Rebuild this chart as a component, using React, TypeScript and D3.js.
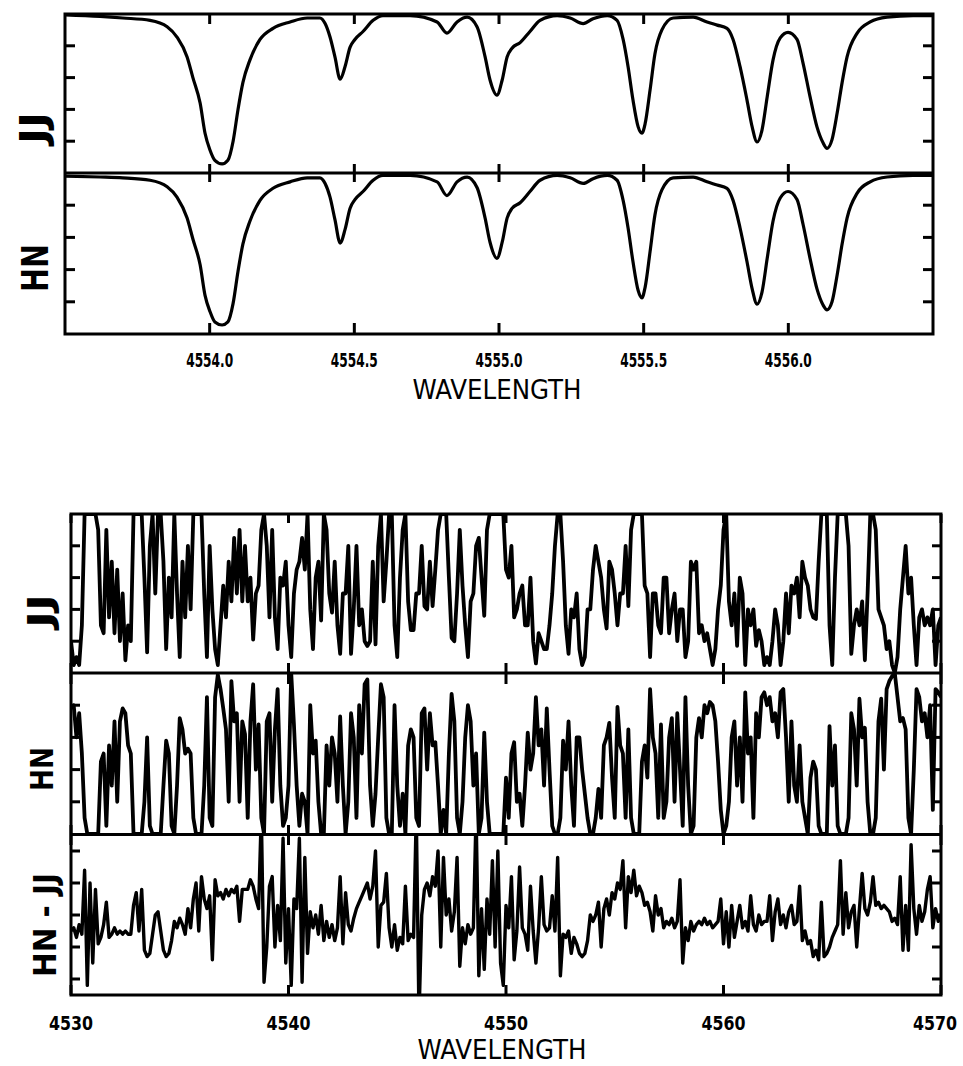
import React from 'react';
import * as d3 from 'd3';

// ---------- top figure (4553.5 - 4556.5 A) ----------
const TOP_WL = [
  4553.5, 4553.621, 4553.7, 4553.794, 4553.853, 4553.887, 4553.922, 4553.942, 4553.967, 4553.984,
  4554.001, 4554.018, 4554.043, 4554.063, 4554.081, 4554.098, 4554.115, 4554.139, 4554.174, 4554.219,
  4554.278, 4554.337, 4554.381, 4554.399, 4554.416, 4554.433, 4554.451, 4554.468, 4554.485, 4554.502,
  4554.53, 4554.565, 4554.599, 4554.693, 4554.786, 4554.82, 4554.855, 4554.89, 4554.924, 4554.952,
  4554.969, 4554.993, 4555.011, 4555.028, 4555.045, 4555.073, 4555.107, 4555.142, 4555.201, 4555.246,
  4555.291, 4555.325, 4555.374, 4555.408, 4555.429, 4555.446, 4555.463, 4555.481, 4555.494, 4555.505,
  4555.522, 4555.539, 4555.563, 4555.602, 4555.671, 4555.719, 4555.754, 4555.788, 4555.809, 4555.833,
  4555.857, 4555.875, 4555.892, 4555.909, 4555.927, 4555.947, 4555.972, 4555.999, 4556.03, 4556.051,
  4556.075, 4556.099, 4556.12, 4556.134, 4556.151, 4556.169, 4556.186, 4556.203, 4556.238, 4556.283,
  4556.341, 4556.431, 4556.5,
];
const TOP_JJ = [
  0.995, 0.985, 0.975, 0.96, 0.92, 0.855, 0.73, 0.6, 0.44, 0.25,
  0.145, 0.08, 0.057, 0.08, 0.2, 0.4, 0.57, 0.71, 0.84, 0.91,
  0.95, 0.975, 0.975, 0.94, 0.855, 0.73, 0.59, 0.67, 0.79, 0.84,
  0.89, 0.96, 0.99, 0.99, 0.95, 0.88, 0.95, 0.98, 0.92, 0.73,
  0.585, 0.49, 0.585, 0.73, 0.785, 0.82, 0.89, 0.96, 0.99, 0.975,
  0.94, 0.97, 0.99, 0.96, 0.84, 0.67, 0.46, 0.29, 0.25, 0.31,
  0.52, 0.75, 0.9, 0.975, 0.98, 0.95, 0.93, 0.91, 0.84, 0.67,
  0.46, 0.29, 0.195, 0.27, 0.48, 0.71, 0.85, 0.885, 0.84, 0.69,
  0.48, 0.29, 0.19, 0.155, 0.21, 0.38, 0.57, 0.73, 0.88, 0.95,
  0.98, 0.99, 0.99,
];
const TOP_HN = [
  0.98, 0.975, 0.97, 0.955, 0.915, 0.85, 0.72, 0.59, 0.43, 0.24,
  0.14, 0.075, 0.056, 0.075, 0.19, 0.39, 0.56, 0.7, 0.83, 0.905,
  0.945, 0.97, 0.97, 0.935, 0.85, 0.71, 0.565, 0.65, 0.78, 0.835,
  0.885, 0.955, 0.985, 0.985, 0.945, 0.86, 0.945, 0.975, 0.91, 0.72,
  0.57, 0.47, 0.57, 0.72, 0.78, 0.815, 0.885, 0.955, 0.985, 0.97,
  0.935, 0.965, 0.985, 0.955, 0.83, 0.66, 0.45, 0.27, 0.225, 0.29,
  0.51, 0.74, 0.895, 0.97, 0.975, 0.945, 0.925, 0.905, 0.83, 0.66,
  0.45, 0.28, 0.185, 0.26, 0.47, 0.7, 0.845, 0.885, 0.835, 0.68,
  0.47, 0.28, 0.18, 0.15, 0.2, 0.37, 0.56, 0.72, 0.875, 0.945,
  0.975, 0.985, 0.985,
];
const TOP_X_TICKS = [4554.0, 4554.5, 4555.0, 4555.5, 4556.0];
const FLUX_TICKS = [0.2, 0.4, 0.6, 0.8];

// ---------- bottom figure (4530 - 4570 A), sampled every 0.125 A ----------
const BOT_START = 4530;
const BOT_STEP = 0.125;
const BOT_X_TICKS = [4530, 4540, 4550, 4560, 4570];
const DIFF_TICKS = [-0.2, -0.1, 0, 0.1, 0.2];

const BOT_JJ = [
  0.2, 0.05, 0.1, 0.05, 0.3, 1, 1, 1, 1, 1,
  0.9, 0.3, 0.25, 0.9, 0.35, 0.7, 0.25, 0.65, 0.2, 0.5,
  0.08, 0.3, 0.2, 1, 1, 1, 1, 0.6, 0.13, 0.8,
  1, 0.5, 1, 1, 0.7, 0.15, 0.6, 0.35, 1, 0.5,
  0.1, 0.7, 0.35, 0.8, 0.4, 1, 1, 1, 1, 0.5,
  0.1, 0.8, 0.4, 0.15, 0.05, 0.3, 0.55, 0.35, 0.7, 0.45,
  0.85, 0.5, 0.9, 0.45, 0.8, 0.45, 0.6, 0.21, 0.5, 0.55,
  0.9, 1, 0.8, 0.35, 0.9, 0.35, 0.15, 0.6, 0.55, 0.7,
  0.3, 0.1, 0.5, 0.65, 0.7, 0.85, 0.65, 1, 0.4, 0.15,
  0.6, 0.7, 0.33, 1, 0.9, 0.5, 0.38, 0.7, 0.3, 0.12,
  0.5, 0.5, 0.8, 0.12, 0.4, 0.8, 0.3, 0.4, 0.2, 0.17,
  0.2, 0.7, 0.18, 0.8, 1, 0.45, 0.7, 1, 1, 0.3,
  0.1, 0.6, 0.9, 1, 0.45, 0.27, 0.27, 0.5, 0.5, 0.8,
  0.42, 0.4, 0.7, 0.42, 0.65, 0.9, 1, 1, 1, 0.6,
  0.22, 0.2, 0.5, 0.9, 0.55, 0.3, 0.1, 0.45, 0.5, 0.8,
  0.85, 0.6, 0.36, 0.9, 1, 1, 1, 1, 1, 1,
  0.65, 0.6, 0.8, 0.35, 0.4, 0.5, 0.55, 0.3, 0.3, 0.6,
  0.2, 0.06, 0.25, 0.2, 0.15, 0.15, 0.3, 0.5, 0.8, 1,
  1, 0.7, 0.3, 0.12, 0.4, 0.35, 0.5, 0.15, 0.05, 0.1,
  0.4, 0.4, 0.65, 0.8, 0.7, 0.6, 0.4, 0.28, 0.7, 0.65,
  0.5, 0.3, 0.5, 0.5, 0.8, 0.42, 0.9, 1, 1, 1,
  1, 0.55, 0.5, 0.1, 0.5, 0.5, 0.3, 0.25, 0.6, 0.6,
  0.25, 0.4, 0.5, 0.2, 0.4, 0.4, 0.1, 0.2, 0.7, 0.65,
  0.7, 0.25, 0.3, 0.2, 0.25, 0.15, 0.05, 0.15, 0.4, 0.55,
  0.9, 1, 0.45, 0.3, 0.5, 0.17, 0.6, 0.5, 0.05, 0.4,
  0.3, 0.4, 0.17, 0.27, 0.2, 0.05, 0.1, 0.05, 0.2, 0.4,
  0.3, 0.05, 0.2, 0.5, 0.25, 0.55, 0.5, 0.6, 0.35, 0.7,
  0.6, 0.55, 0.4, 0.35, 0.34, 0.7, 1, 1, 1, 0.3,
  0.05, 0.6, 1, 1, 1, 1, 0.8, 0.12, 0.3, 0.4,
  0.3, 0.45, 0.08, 0.5, 1, 1, 0.9, 0.4, 0.35, 0.3,
  0.15, 0.2, 0.05, 0, 0.1, 0.4, 0.6, 0.8, 0.5, 0.6,
  0.3, 0.05, 0.35, 0.4, 0.3, 0.35, 0.3, 0.4, 0.05, 0.3,
  0.35,
];

const BOT_HN = [
  0.78, 0.8, 0.6, 0.75, 0.5, 0.1, 0, 0, 0, 0,
  0, 0.45, 0.5, 0.05, 0.55, 0.3, 0.7, 0.2, 0.7, 0.78,
  0.75, 0.55, 0.5, 0, 0, 0, 0, 0.2, 0.6, 0.05,
  0, 0, 0, 0, 0.3, 0.58, 0.5, 0.05, 0, 0.3,
  0.72, 0.65, 0.5, 0.53, 0.5, 0.1, 0, 0, 0, 0.3,
  0.85, 0.1, 0.05, 0.85, 0.99, 0.9, 0.78, 0.65, 0.2, 0.95,
  0.7, 0.75, 0.2, 0.7, 0.62, 0.1, 0.7, 0.93, 0.4, 0.68,
  0.1, 0, 0.7, 0.75, 0.2, 0.65, 0.9, 0.3, 0.05, 0.1,
  0.3, 1, 0.68, 0.3, 0.05, 0.25, 0.2, 0, 0.8, 0.5,
  0.58, 0.2, 0, 0, 0.55, 0.3, 0.6, 0.5, 0.2, 0.73,
  0.3, 0, 0.2, 0.75, 0.6, 0.1, 0.8, 0.5, 0.93, 0.96,
  0.3, 0.05, 0.25, 0.6, 0.93, 0.85, 0.1, 0, 0, 0.8,
  0.3, 0.05, 0.25, 0, 0.55, 0.65, 0.6, 0.1, 0.05, 0.75,
  0.78, 0.4, 0.75, 0.55, 0.57, 0.3, 0, 0.15, 0, 0.5,
  0.87, 0.7, 0.1, 0, 0.2, 0.6, 0.8, 0.7, 0.3, 0.5,
  0, 0.1, 0.63, 0.2, 0, 0, 0, 0, 0, 0,
  0.35, 0.1, 0.5, 0.57, 0.2, 0.25, 0.05, 0.3, 0.63, 0.4,
  0.5, 0.85, 0.55, 0.65, 0.3, 0.78, 0.4, 0.05, 0, 0,
  0.1, 0.58, 0.4, 0.7, 0.3, 0.05, 0.6, 0.6, 0.4, 0.25,
  0.1, 0, 0, 0.1, 0.28, 0.1, 0.55, 0.6, 0.69, 0.35,
  0.1, 0.79, 0.55, 0.5, 0.1, 0.65, 0.1, 0, 0, 0,
  0.45, 0.55, 0.35, 0.9, 0.6, 0.5, 0.1, 0.68, 0.1, 0.2,
  0.6, 0.72, 0.2, 0.75, 0.4, 0.05, 0.85, 0.3, 0, 0.05,
  0.6, 0.72, 0.6, 0.8, 0.75, 0.82, 0.8, 0.7, 0.45, 0.15,
  0, 0.05, 0.2, 0.6, 0.7, 0.3, 0.6, 0.2, 0.88, 0.5,
  0.6, 0.1, 0.75, 0.6, 0.85, 0.88, 0.8, 0.85, 0.7, 0.75,
  0.6, 0.88, 0.9, 0.6, 0.2, 0.7, 0.3, 0.2, 0.55, 0.2,
  0.1, 0, 0.35, 0.45, 0.4, 0.05, 0, 0, 0, 0.67,
  0.3, 0.55, 0.05, 0, 0, 0, 0.1, 0.75, 0.65, 0.3,
  0.84, 0.6, 0.66, 0.2, 0, 0, 0.1, 0.7, 0.84, 0.4,
  0.9, 0.95, 0.98, 1, 0.85, 0.7, 0.72, 0.65, 0.1, 0,
  0.4, 0.9, 0.85, 0.7, 0.75, 0.6, 0.8, 0.15, 0.9, 0.88,
  0.85,
];

const BOT_DIFF = [
  -0.05, -0.04, -0.07, -0.03, -0.06, 0.14, -0.22, 0.1, -0.15, 0.08,
  -0.09, -0.07, -0.03, 0.04, -0.07, -0.06, -0.04, -0.06, -0.05, -0.06,
  -0.05, -0.06, -0.06, 0.03, 0.07, -0.05, 0.08, -0.11, -0.13, -0.12,
  -0.06, 0, 0.01, -0.05, -0.11, -0.13, -0.12, -0.08, -0.02, -0.04,
  -0.01, -0.03, -0.06, 0.02, -0.04, 0.05, 0.1, -0.05, 0.12, 0.05,
  0.02, 0.06, -0.14, 0.11, 0.06, 0.07, 0.05, 0.08, 0.06, 0.08,
  0.07, 0.09, -0.02, 0.08, 0.08, 0.08, 0.11, 0.09, 0.05, 0.02,
  0.32, -0.21, -0.1, 0.09, 0.12, -0.1, 0.03, -0.08, 0.24, -0.15,
  0.02, -0.22, 0.05, 0.02, 0.24, -0.21, 0.18, -0.12, 0.01, -0.04,
  0, -0.06, 0.03, -0.08, -0.02, -0.07, -0.03, -0.08, -0.04, 0.12,
  -0.09, 0.07, -0.03, -0.05, -0.01, 0.02, 0.04, 0.06, 0.08, 0.1,
  0.05, 0.09, 0.2, -0.1, 0.03, 0.04, 0.13, -0.04, -0.1, -0.03,
  -0.11, -0.07, -0.09, 0.09, -0.08, -0.06, -0.07, 0.32, -0.32, 0,
  0.08, 0.1, 0.06, 0.12, 0.09, 0.2, -0.1, 0.18, 0, 0.05,
  -0.05, 0.01, 0.18, -0.16, -0.04, -0.09, -0.03, -0.06, -0.04, 0.32,
  -0.19, 0.02, -0.17, 0.05, -0.06, 0.17, -0.1, 0.2, -0.15, -0.22,
  0.03, -0.04, 0.12, -0.14, -0.05, 0.15, -0.04, -0.06, -0.11, 0.09,
  -0.05, -0.15, -0.04, 0.12, -0.03, -0.05, -0.04, 0.06, -0.05, 0.18,
  -0.19, -0.06, -0.07, -0.05, -0.12, -0.07, -0.09, -0.12, -0.13, -0.12,
  -0.08, 0, -0.02, 0, 0.04, -0.1, 0.02, 0.05, 0, 0.07,
  0.05, 0.1, 0.08, 0.17, -0.04, 0.12, 0.07, 0.14, 0.06, 0.09,
  0.07, 0.03, 0.04, 0.01, -0.05, 0.06, 0, 0.02, -0.04, -0.02,
  -0.03, -0.01, -0.04, -0.02, 0.11, -0.15, -0.04, -0.08, -0.02, -0.05,
  -0.03, -0.02, -0.03, -0.01, -0.03, -0.02, -0.04, -0.03, -0.02, 0.05,
  -0.09, 0.01, -0.1, 0.03, -0.07, -0.02, 0.03, -0.04, -0.02, -0.05,
  0.06, -0.03, -0.05, 0, -0.03, -0.02, -0.02, 0.06, -0.08, 0.01,
  0.05, -0.03, 0, -0.04, 0.01, 0.03, -0.03, -0.02, 0.09, -0.08,
  -0.05, -0.09, -0.08, -0.13, -0.11, -0.14, 0.04, -0.13, -0.12, -0.1,
  -0.07, -0.05, -0.03, 0.17, -0.06, 0.07, -0.04, 0.01, 0.03, -0.1,
  0.02, 0.13, 0.02, 0, 0.04, 0.12, 0.03, 0.04, 0.02, 0.03,
  0.02, 0.01, -0.02, -0.01, -0.03, 0.12, -0.11, 0.03, -0.11, 0.22,
  0.02, -0.06, 0.03, -0.02, 0.01, 0.08, 0.12, -0.04, 0.02, -0.02,
  0,
];

const FONT = "'DejaVu Sans Condensed', 'DejaVu Sans', sans-serif";

type Panel = { top: number; bottom: number; y: d3.ScaleLinear<number, number>; ticks: number[] };

export default function App() {
  const W = 963;
  const H = 1066;

  // top figure scales
  const tx = d3.scaleLinear().domain([4553.5, 4556.5]).range([65, 933]);
  const tJJ = d3.scaleLinear().domain([0, 1]).range([173, 14]);
  const tHN = d3.scaleLinear().domain([0, 1]).range([334, 173]);

  // bottom figure scales
  const bx = d3.scaleLinear().domain([4530, 4570]).range([71, 941]);
  const bJJ = d3.scaleLinear().domain([0, 1]).range([673, 514]);
  const bHN = d3.scaleLinear().domain([0, 1]).range([834, 673]);
  const bD = d3.scaleLinear().domain([-0.25, 0.25]).range([995, 835]);

  const topLine = (ys: d3.ScaleLinear<number, number>) =>
    d3.line<number>()
      .x((_, i) => tx(TOP_WL[i]))
      .y((v) => ys(v))
      .curve(d3.curveMonotoneX);

  const botLine = (ys: d3.ScaleLinear<number, number>) =>
    d3.line<number>()
      .x((_, i) => bx(BOT_START + i * BOT_STEP))
      .y((v) => ys(v));

  const topPanels: Panel[] = [
    { top: 14, bottom: 173, y: tJJ, ticks: FLUX_TICKS },
    { top: 173, bottom: 334, y: tHN, ticks: FLUX_TICKS },
  ];
  const botPanels: Panel[] = [
    { top: 514, bottom: 673, y: bJJ, ticks: FLUX_TICKS },
    { top: 673, bottom: 834, y: bHN, ticks: FLUX_TICKS },
    { top: 835, bottom: 995, y: bD, ticks: DIFF_TICKS },
  ];

  const yTicks = (p: Panel, x0: number, x1: number, len: number, key: string) =>
    p.ticks.map((t) => (
      <g key={key + t}>
        <line x1={x0} x2={x0 + len} y1={p.y(t)} y2={p.y(t)} />
        <line x1={x1} x2={x1 - len} y1={p.y(t)} y2={p.y(t)} />
      </g>
    ));

  const topTickX = TOP_X_TICKS.map((t) => tx(t));
  const botTickX = BOT_X_TICKS.map((t) => bx(t));

  return (
    <svg
      width={W}
      height={H}
      viewBox={`0 0 ${W} ${H}`}
      style={{ position: 'absolute', left: 0, top: 0, background: '#fff' }}
    >
      <defs>
        {topPanels.map((p, i) => (
          <clipPath id={`tc${i}`} key={i}>
            <rect x={65} y={p.top} width={868} height={p.bottom - p.top} />
          </clipPath>
        ))}
        {botPanels.map((p, i) => (
          <clipPath id={`bc${i}`} key={i}>
            <rect x={71} y={p.top - 1} width={870} height={p.bottom - p.top + 2} />
          </clipPath>
        ))}
      </defs>
      <rect x={0} y={0} width={W} height={H} fill="#fff" />

      {/* ---------- top figure ---------- */}
      <g fill="none" stroke="#000" strokeWidth={3.2} strokeLinejoin="round">
        <path d={topLine(tJJ)(TOP_JJ) || ''} clipPath="url(#tc0)" />
        <path d={topLine(tHN)(TOP_HN) || ''} clipPath="url(#tc1)" />
      </g>
      <g stroke="#000" strokeWidth={3} fill="none">
        <rect x={65} y={14} width={868} height={320} />
        <line x1={65} x2={933} y1={173} y2={173} />
        {topTickX.map((x, i) => (
          <g key={'tt' + i}>
            <line x1={x} x2={x} y1={14} y2={24} />
            <line x1={x} x2={x} y1={164} y2={182} />
            <line x1={x} x2={x} y1={323} y2={334} />
          </g>
        ))}
        {yTicks(topPanels[0], 65, 933, 10, 'a')}
        {yTicks(topPanels[1], 65, 933, 10, 'b')}
      </g>
      <g fontFamily={FONT} fill="#000">
        {TOP_X_TICKS.map((t, i) => (
          <text
            key={'tl' + i}
            x={topTickX[i]}
            y={367}
            fontSize={19}
            fontWeight="bold"
            textAnchor="middle"
            textLength={47}
            lengthAdjust="spacingAndGlyphs"
          >
            {t.toFixed(1)}
          </text>
        ))}
        <text x={497} y={399} fontSize={26} textAnchor="middle" textLength={169} lengthAdjust="spacingAndGlyphs">
          WAVELENGTH
        </text>
        <text
          transform="translate(33,128) rotate(-90)"
          fontSize={38}
          fontWeight="bold"
          textAnchor="middle"
          dominantBaseline="central"
          textLength={32}
          lengthAdjust="spacingAndGlyphs"
        >
          JJ
        </text>
        <text
          transform="translate(35,268) rotate(-90)"
          fontSize={38}
          fontWeight="bold"
          textAnchor="middle"
          dominantBaseline="central"
          textLength={48}
          lengthAdjust="spacingAndGlyphs"
        >
          HN
        </text>
      </g>

      {/* ---------- bottom figure ---------- */}
      <g fill="none" stroke="#000" strokeLinejoin="round">
        <path d={botLine(bJJ)(BOT_JJ) || ''} clipPath="url(#bc0)" strokeWidth={3.8} />
        <path d={botLine(bHN)(BOT_HN) || ''} clipPath="url(#bc1)" strokeWidth={3.8} />
        <path d={botLine(bD)(BOT_DIFF) || ''} clipPath="url(#bc2)" strokeWidth={3.4} />
      </g>
      <g stroke="#000" strokeWidth={3} fill="none">
        <rect x={71} y={514} width={870} height={481} />
        <line x1={71} x2={941} y1={673} y2={673} />
        <line x1={71} x2={941} y1={834.5} y2={834.5} />
        {botTickX.map((x, i) => (
          <g key={'bt' + i}>
            <line x1={x} x2={x} y1={514} y2={523} />
            <line x1={x} x2={x} y1={663} y2={684} />
            <line x1={x} x2={x} y1={825} y2={845} />
            <line x1={x} x2={x} y1={985} y2={995} />
          </g>
        ))}
        {yTicks(botPanels[0], 71, 941, 9, 'c')}
        {yTicks(botPanels[1], 71, 941, 9, 'd')}
        {yTicks(botPanels[2], 71, 941, 9, 'e')}
      </g>
      <g fontFamily={FONT} fill="#000">
        {BOT_X_TICKS.map((t, i) => (
          <text
            key={'bl' + i}
            x={Math.min(botTickX[i], 935)}
            y={1030}
            fontSize={20}
            fontWeight="bold"
            textAnchor="middle"
            textLength={44}
            lengthAdjust="spacingAndGlyphs"
          >
            {t}
          </text>
        ))}
        <text x={502} y={1059} fontSize={26} textAnchor="middle" textLength={169} lengthAdjust="spacingAndGlyphs">
          WAVELENGTH
        </text>
        <text
          transform="translate(40,611) rotate(-90)"
          fontSize={34}
          fontWeight="bold"
          textAnchor="middle"
          dominantBaseline="central"
          textLength={34}
          lengthAdjust="spacingAndGlyphs"
        >
          JJ
        </text>
        <text
          transform="translate(42,769) rotate(-90)"
          fontSize={32}
          fontWeight="bold"
          textAnchor="middle"
          dominantBaseline="central"
          textLength={44}
          lengthAdjust="spacingAndGlyphs"
        >
          HN
        </text>
        <text
          transform="translate(45,925) rotate(-90)"
          fontSize={32}
          fontWeight="bold"
          textAnchor="middle"
          dominantBaseline="central"
          textLength={104}
          lengthAdjust="spacingAndGlyphs"
        >
          HN - JJ
        </text>
      </g>
    </svg>
  );
}
